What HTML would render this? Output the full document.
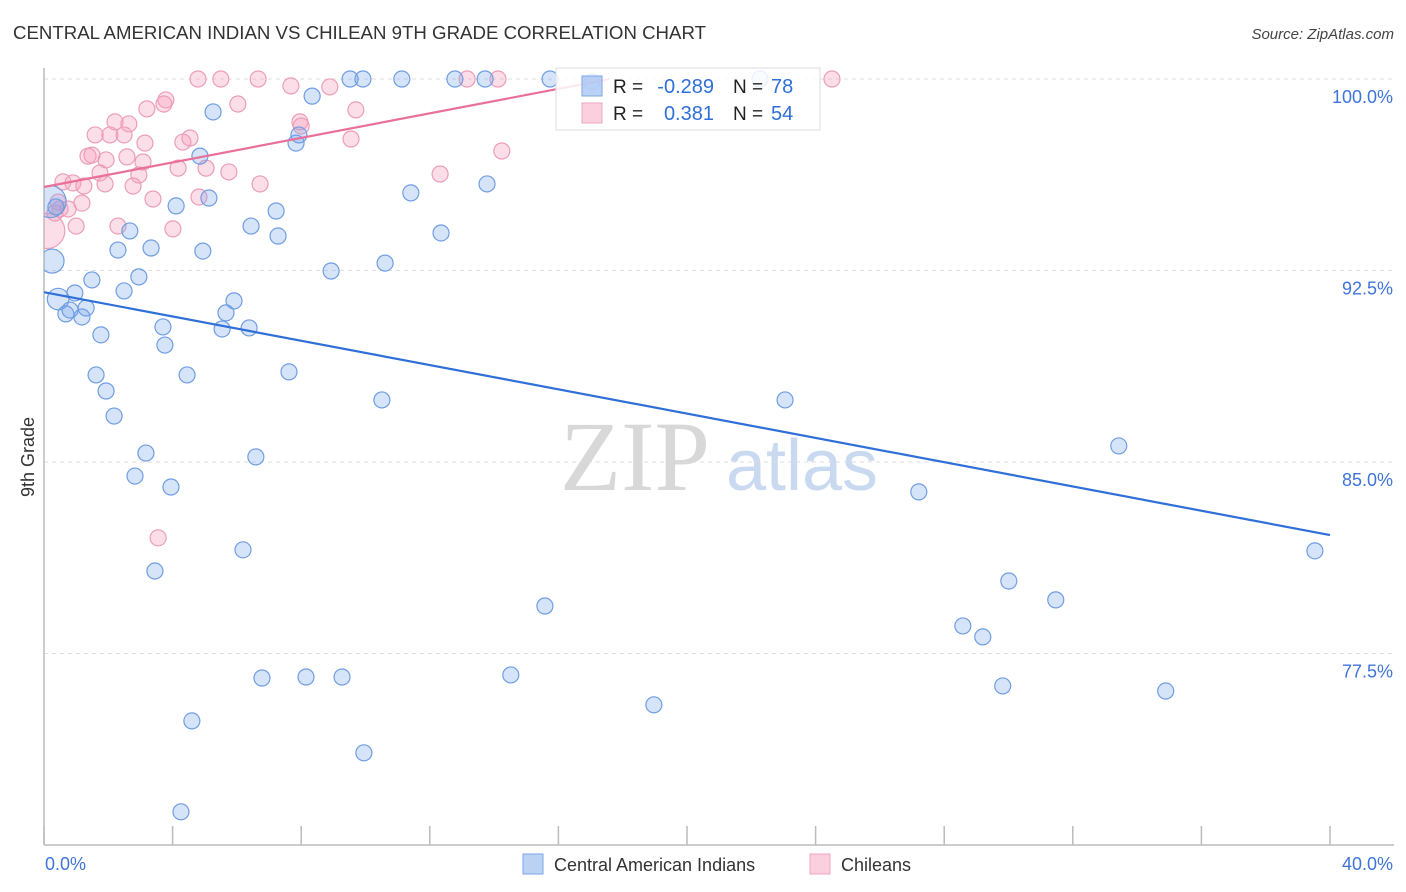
<!DOCTYPE html>
<html><head><meta charset="utf-8">
<style>
html,body{margin:0;padding:0;background:#fff;}
body{width:1406px;height:892px;overflow:hidden;font-family:"Liberation Sans",sans-serif;}
svg{display:block}
</style></head>
<body>
<svg id="chart" width="1406" height="892" viewBox="0 0 1406 892" xmlns="http://www.w3.org/2000/svg">
<text x="13" y="39" font-size="18" fill="#333" textLength="693" lengthAdjust="spacingAndGlyphs">CENTRAL AMERICAN INDIAN VS CHILEAN 9TH GRADE CORRELATION CHART</text>
<text x="1394" y="39" font-size="15" font-style="italic" fill="#444" text-anchor="end">Source: ZipAtlas.com</text>
<g>
<text x="635" y="490" font-family="Liberation Serif,serif" font-size="100" fill="#d8d8d8" text-anchor="middle">ZIP</text>
<text x="802" y="490" font-size="72" fill="#c9d9f0" text-anchor="middle">atlas</text>
</g>
<g id="grid"></g>
<g id="axes"></g>
<defs><clipPath id="plotclip"><rect x="44" y="60" width="1360" height="785"/></clipPath></defs>
<g id="points" clip-path="url(#plotclip)"></g>
<g id="trends"></g>
<text x="34" y="457" font-size="18" fill="#333" text-anchor="middle" transform="rotate(-90 34 457)">9th Grade</text>
<g>
<rect x="556" y="68" width="264" height="62" fill="rgba(255,255,255,0.85)" stroke="#ddd"/>
<rect x="582" y="76" width="20" height="20" fill="rgba(120,165,235,0.5)" stroke="#7aa6e6"/>
<rect x="582" y="103" width="20" height="20" fill="rgba(245,160,190,0.5)" stroke="#eea5bf"/>
<text x="613" y="93" font-size="19" fill="#222">R =</text><text x="714" y="93" font-size="20" fill="#2f6fd8" text-anchor="end">-0.289</text>
<text x="733" y="93" font-size="19" fill="#222">N =</text><text x="771" y="93" font-size="20" fill="#2f6fd8">78</text>
<text x="613" y="120" font-size="19" fill="#222">R =</text><text x="714" y="120" font-size="20" fill="#2f6fd8" text-anchor="end">0.381</text>
<text x="733" y="120" font-size="19" fill="#222">N =</text><text x="771" y="120" font-size="20" fill="#2f6fd8">54</text>
</g>
<g>
<rect x="523" y="854" width="20" height="20" fill="rgba(120,165,235,0.5)" stroke="#7aa6e6"/>
<text x="554" y="871" font-size="18" fill="#333">Central American Indians</text>
<rect x="810" y="854" width="20" height="20" fill="rgba(245,160,190,0.5)" stroke="#eea5bf"/>
<text x="841" y="871" font-size="18" fill="#333">Chileans</text>
</g>
</svg>
<script>
const yTicks=[100,92.5,85,77.5];
const yTickLabels=["100.0%","92.5%","85.0%","77.5%"];
const xTickValues=[0,4,8,12,16,20,24,28,32,36,40];
const xEndLabels=["0.0%","40.0%"];
const blueX=[17.04,9.52,9.92,11.13,12.78,13.72,15.74,22.27,5.26,8.34,7.84,7.93,4.85,13.78,11.41,5.13,4.11,7.22,6.44,7.28,12.35,2.67,2.30,3.33,4.94,0.25,10.61,8.93,2.95,1.49,2.49,0.96,0.44,5.91,1.31,0.81,0.68,1.18,5.66,3.70,5.54,6.38,1.77,3.76,1.62,4.45,7.62,1.93,10.51,23.05,2.18,3.17,6.59,33.43,2.83,3.95,27.21,6.19,39.53,3.45,30.01,31.47,15.58,28.58,29.20,6.78,8.15,9.27,14.52,29.82,34.89,18.97,4.60,9.95,4.26,0.19,0.37];
const blueY=[99.88,100,100,100,100,100,100,100,98.71,99.33,97.49,97.81,96.98,95.89,95.54,95.34,95.03,94.83,94.24,93.85,93.97,94.05,93.30,93.38,93.26,92.87,92.79,92.48,92.25,92.13,91.70,91.62,91.38,91.31,91.03,90.95,90.80,90.68,90.84,90.29,90.21,90.25,89.98,89.58,88.41,88.41,88.53,87.78,87.43,87.43,86.80,85.35,85.20,85.63,84.45,84.02,83.83,81.56,81.52,80.73,80.34,79.60,79.36,78.58,78.15,76.54,76.58,76.58,76.66,76.23,76.03,75.49,74.86,73.61,71.30,95.20,94.99];
const blueSize=[1,1,1,1,1,1,1,1,1,1,1,1,1,1,1,1,1,1,1,1,1,1,1,1,1,1.5,1,1,1,1,1,1,1.35,1,1,1,1,1,1,1,1,1,1,1,1,1,1,1,1,1,1,1,1,1,1,1,1,1,1,1,1,1,1,1,1,1,1,1,1,1,1,1,1,1,1,2,1];
const pinkX=[4.79,5.50,6.66,7.68,8.89,13.16,14.12,24.51,9.70,3.79,3.73,6.03,3.20,2.21,2.64,1.59,2.05,2.49,3.14,4.32,4.54,9.55,14.24,1.37,1.49,2.58,1.93,3.08,4.17,5.04,5.75,12.32,1.74,2.95,0.59,0.90,1.24,1.90,2.77,6.72,4.82,3.39,1.18,0.44,0.50,0.75,0.34,2.30,1.00,4.01,0.10,3.55,7.96,8.00];
const pinkY=[100,100,100,99.73,99.69,100,100,100,98.79,99.18,99.02,99.02,98.83,98.32,98.24,97.81,97.81,97.81,97.49,97.53,97.69,97.65,97.18,96.98,97.02,96.95,96.83,96.75,96.51,96.51,96.36,96.28,96.32,96.24,95.97,95.93,95.81,95.89,95.81,95.89,95.38,95.30,95.14,95.18,94.91,94.91,94.75,94.24,94.24,94.13,94.05,82.03,98.32,98.16];
const pinkSize=[1,1,1,1,1,1,1,1,1,1,1,1,1,1,1,1,1,1,1,1,1,1,1,1,1,1,1,1,1,1,1,1,1,1,1,1,1,1,1,1,1,1,1,1,1,1,1,1,1,1,2.2,1,1,1];
const blueTrendX=[0,40];
const blueTrendY=[91.65,82.14];
const pinkTrendX=[0,17.6];
const pinkTrendY=[95.77,100];

const NS="http://www.w3.org/2000/svg";
const xs=v=>44+v*(1286/40);
const ys=v=>79+(100-v)*(191.5/7.5);
function mk(tag,attrs,parent){const e=document.createElementNS(NS,tag);for(const k in attrs)e.setAttribute(k,attrs[k]);parent.appendChild(e);return e;}
const grid=document.getElementById('grid'),axes=document.getElementById('axes'),pts=document.getElementById('points'),tr=document.getElementById('trends');
yTicks.forEach((t,i)=>{
 const l=mk('line',{x1:44,x2:1394,y1:ys(t),y2:ys(t),stroke:'#ddd','stroke-dasharray':'4,4'},grid);
 
 
 const tx=mk('text',{x:1393,y:ys(t)+24,'font-size':18,fill:'#3f74d8','text-anchor':'end'},axes);
 tx.textContent=yTickLabels[i];
 
 
});
const ax=mk('line',{x1:44,x2:1394,y1:845,y2:845,stroke:'#bbb','stroke-width':1.5},axes);


const ay=mk('line',{x1:44,x2:44,y1:68,y2:845,stroke:'#bbb','stroke-width':1.5},axes);


xTickValues.forEach(v=>{
 const t=mk('line',{x1:xs(v),x2:xs(v),y1:826,y2:845,stroke:'#bbb','stroke-width':1.5},axes);
 
 
});
const xl0=mk('text',{x:45,y:870,'font-size':18,fill:'#3f74d8'},axes);xl0.textContent=xEndLabels[0];


const xl1=mk('text',{x:1393,y:870,'font-size':18,fill:'#3f74d8','text-anchor':'end'},axes);xl1.textContent=xEndLabels[1];


pinkX.forEach((v,i)=>{
 const c=mk('circle',{cx:xs(v),cy:ys(pinkY[i]),r:8*pinkSize[i],fill:'rgba(245,160,190,0.35)',stroke:'#ec9db9','stroke-width':1.2},pts);
 
 
});
blueX.forEach((v,i)=>{
 const c=mk('circle',{cx:xs(v),cy:ys(blueY[i]),r:8*blueSize[i],fill:'rgba(120,165,235,0.3)',stroke:'#6f9de2','stroke-width':1.2},pts);
 
 
});
const bl=mk('line',{x1:xs(blueTrendX[0]),y1:ys(blueTrendY[0]),x2:xs(blueTrendX[1]),y2:ys(blueTrendY[1]),stroke:'#2f6fd8','stroke-width':2.2},tr);


const pl=mk('line',{x1:xs(pinkTrendX[0]),y1:ys(pinkTrendY[0]),x2:xs(pinkTrendX[1]),y2:ys(pinkTrendY[1]),stroke:'#e8709a','stroke-width':2.2},tr);


</script>
</body></html>
